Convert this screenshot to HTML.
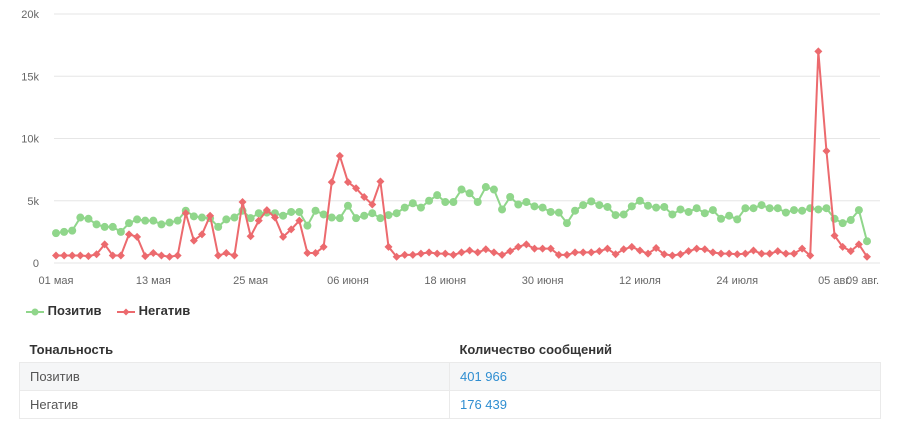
<!DOCTYPE html>
<html><head><meta charset="utf-8"><style>
body{margin:0;width:920px;height:427px;background:#fff;font-family:"Liberation Sans","DejaVu Sans",sans-serif;overflow:hidden;position:relative}
svg{position:absolute;left:0;top:0}
.lg{position:absolute;top:303px;font-size:13px;font-weight:bold;color:#333}
table{position:absolute;left:19px;top:336px;width:862px;border-collapse:collapse;font-size:13px}
th{text-align:left;font-weight:bold;color:#333;height:26px;padding:0 0 0 10px}
td{height:27px;padding:0 0 0 10px;color:#555;border:1px solid #eaeaea}
td.n{color:#2f8ed1}
</style></head><body>
<svg id="chart" width="920" height="300"></svg>
<div class="lg" style="left:26px"><svg width="18" height="10" style="position:relative;left:0;top:0;vertical-align:middle"><line x1="0" y1="5" x2="18" y2="5" stroke="#90d68b" stroke-width="2"/><circle cx="9" cy="5" r="3.5" fill="#90d68b"/></svg> Позитив</div>
<div class="lg" style="left:117px"><svg width="18" height="10" style="position:relative;left:0;top:0;vertical-align:middle"><line x1="0" y1="5" x2="18" y2="5" stroke="#ec6a6e" stroke-width="2"/><path d="M9 1.5L12.5 5L9 8.5L5.5 5Z" fill="#ec6a6e"/></svg> Негатив</div>
<table>
<tr><th style="width:420px">Тональность</th><th>Количество сообщений</th></tr>
<tr style="background:#f5f6f7"><td>Позитив</td><td class="n">401 966</td></tr>
<tr><td>Негатив</td><td class="n">176 439</td></tr>
</table>
<script>
const positive=[2.4,2.5,2.6,3.65,3.55,3.1,2.9,2.9,2.5,3.2,3.5,3.4,3.4,3.1,3.25,3.4,4.2,3.75,3.65,3.6,2.9,3.5,3.65,4.2,3.6,4.0,4.05,4.0,3.8,4.1,4.1,3.0,4.2,3.9,3.65,3.6,4.6,3.6,3.8,4.0,3.6,3.85,4.0,4.45,4.8,4.45,5.0,5.45,4.9,4.9,5.9,5.6,4.9,6.1,5.9,4.3,5.3,4.7,4.9,4.55,4.45,4.1,4.05,3.2,4.2,4.65,4.95,4.65,4.5,3.85,3.9,4.55,5.0,4.6,4.45,4.5,3.9,4.3,4.1,4.4,4.0,4.25,3.55,3.8,3.5,4.4,4.4,4.65,4.4,4.4,4.05,4.25,4.2,4.4,4.3,4.4,3.55,3.2,3.45,4.25,1.75];
const negative=[0.6,0.6,0.6,0.6,0.55,0.7,1.5,0.6,0.6,2.3,2.1,0.55,0.8,0.6,0.5,0.6,4.0,1.8,2.3,3.8,0.6,0.8,0.6,4.9,2.15,3.4,4.25,3.65,2.1,2.7,3.4,0.8,0.8,1.3,6.5,8.6,6.5,6.0,5.3,4.7,6.55,1.3,0.5,0.65,0.65,0.75,0.85,0.75,0.75,0.65,0.85,1.0,0.85,1.1,0.85,0.65,0.95,1.3,1.5,1.15,1.15,1.15,0.65,0.65,0.85,0.85,0.85,0.95,1.15,0.7,1.1,1.3,1.0,0.75,1.2,0.7,0.6,0.7,0.95,1.15,1.1,0.85,0.75,0.75,0.7,0.75,1.0,0.75,0.75,0.95,0.75,0.75,1.15,0.6,17.0,9.0,2.2,1.3,0.95,1.5,0.5];
const yTicks=[0,5,10,15,20];
const yTickLabels=["0","5k","10k","15k","20k"];
const xTickIdx=[0,12,24,36,48,60,72,84,96,100];
const xTickLabels=["01 мая","13 мая","25 мая","06 июня","18 июня","30 июня","12 июля","24 июля","05 авг.","09 авг."];
const NS="http://www.w3.org/2000/svg";
const svg=document.getElementById('chart');
const X=i=>56+i*8.11;
const Y=v=>263-v*12.45;
function mk(t,a){const e=document.createElementNS(NS,t);for(const k in a)e.setAttribute(k,a[k]);svg.appendChild(e);return e;}
yTicks.forEach((v,i)=>{
  const g=mk('line',{x1:54,x2:880,y1:Y(v),y2:Y(v),stroke:'#e6e6e6','stroke-width':1});
  
  
  const t=mk('text',{x:39,y:Y(v)+4,'text-anchor':'end','font-size':11,fill:'#666'});
  t.textContent=yTickLabels[i];
  
  
});
xTickIdx.forEach((idx,i)=>{
  const last=i===xTickIdx.length-1;
  const t=mk('text',{x:last?X(idx)+12:X(idx),y:284,'text-anchor':last?'end':'middle','font-size':11,fill:'#666'});
  t.textContent=xTickLabels[i];
  
  
});
function series(data,color,diamond,name){
  const p=mk('polyline',{points:data.map((v,i)=>X(i)+','+Y(v)).join(' '),fill:'none',stroke:color,'stroke-width':2,'stroke-linejoin':'round'});
  
  
  data.forEach((v,i)=>{
    const x=X(i),y=Y(v);
    let m;
    if(diamond)m=mk('path',{d:`M${x} ${y-4}L${x+4} ${y}L${x} ${y+4}L${x-4} ${y}Z`,fill:color});
    else m=mk('circle',{cx:x,cy:y,r:4,fill:color});
    
    
  });
}
series(positive,'#90d68b',false,'positive');
series(negative,'#ec6a6e',true,'negative');
</script>
</body></html>
